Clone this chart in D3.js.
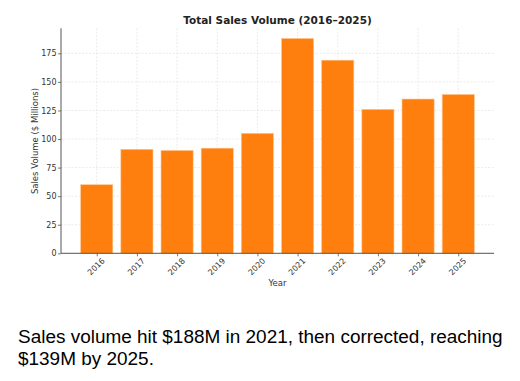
<!DOCTYPE html>
<html><head><meta charset="utf-8">
<script src="https://cdn.jsdelivr.net/npm/d3@7"></script>
<style>body{margin:0;background:#fff}svg{display:block}</style>
</head><body>
<svg id="c" width="520" height="381"></svg>
<script>
const years = ["2016","2017","2018","2019","2020","2021","2022","2023","2024","2025"];
const sales = [60, 91, 90, 92, 105, 188, 169, 126, 135, 139];
const yTicks = [0, 25, 50, 75, 100, 125, 150, 175];
const title = "Total Sales Volume (2016–2025)";
const xLabel = "Year";
const yLabel = "Sales Volume ($ Millions)";
const caption = ["Sales volume hit $188M in 2021, then corrected, reaching", "$139M by 2025."];

const svg = d3.select("#c");
const L = 61, R = 494, T = 28.3, B = 253.3;
const idx = years.map((d,i)=>i);
const x = d3.scaleLinear().domain([-0.89, 9.89]).range([L, R]);
const y = d3.scaleLinear().domain([0, 196.9]).range([B, T]);
const bw = x(0.8) - x(0);

// grid
const g = svg.append("g");
g.selectAll(".gy").data(yTicks).join("line")
  .attr("x1", L).attr("x2", R).attr("y1", d=>y(d)).attr("y2", d=>y(d))
  .attr("stroke", "#e2e2e2").attr("stroke-width", 0.7).attr("stroke-dasharray", "2,1.5");
g.selectAll(".gx").data(idx).join("line")
  .attr("x1", d=>x(d)).attr("x2", d=>x(d)).attr("y1", T).attr("y2", B)
  .attr("stroke", "#e2e2e2").attr("stroke-width", 0.7).attr("stroke-dasharray", "2,1.5");

// bars
svg.append("g").selectAll("rect").data(sales).join("rect")
  .attr("x", (d,i)=>x(i) - bw/2).attr("width", bw)
  .attr("y", d=>y(d)).attr("height", d=>B - y(d))
  .attr("fill", "#ff7f0e").attr("stroke", "#ffc58f").attr("stroke-width", 0.6);

// axes
const yAxis = d3.axisLeft(y).tickValues(yTicks).tickSize(3).tickPadding(1.5);
const ya = svg.append("g").attr("transform", `translate(${L},0)`).call(yAxis);
ya.select(".domain").attr("d", `M0,${T}V${B}`);
const xAxis = d3.axisBottom(x).tickValues(idx).tickFormat(i=>years[i]).tickSize(3).tickPadding(3);
const xa = svg.append("g").attr("transform", `translate(0,${B})`).call(xAxis);
xa.select(".domain").attr("d", `M${L},0H${R}`);
[ya, xa].forEach(a=>{
  a.select(".domain").attr("stroke", "#555").attr("stroke-width", 1);
  a.selectAll(".tick line").attr("stroke", "#555").attr("stroke-width", 0.8);
  a.selectAll(".tick text").attr("fill", "#333").attr("font-family", "DejaVu Sans").attr("font-size", 8);
});
xa.selectAll(".tick text")
  .attr("text-anchor", "end").attr("dy", "0.35em")
  .attr("transform", "translate(6,6) rotate(-45)").attr("x", 0).attr("y", 0);

// labels
svg.append("text").attr("x", (L+R)/2).attr("y", 24).attr("text-anchor", "middle")
  .attr("font-family", "DejaVu Sans").attr("font-weight", "bold").attr("font-size", 10.5).attr("fill", "#222").text(title);
svg.append("text").attr("x", (L+R)/2).attr("y", 286).attr("text-anchor", "middle")
  .attr("font-family", "DejaVu Sans").attr("font-size", 8.5).attr("fill", "#333").text(xLabel);
svg.append("text").attr("transform", `translate(38,141) rotate(-90)`).attr("text-anchor", "middle")
  .attr("font-family", "DejaVu Sans").attr("font-size", 8.5).attr("fill", "#333").text(yLabel);

const cap = svg.append("g").selectAll("text").data(caption).join("text")
  .attr("x", 18).attr("y", (d,i)=>343 + i*22)
  .attr("font-family", "Liberation Sans, Arial").attr("font-size", 20).attr("fill", "#000").text(d=>d);
const w0 = cap.nodes()[0].getComputedTextLength();
cap.attr("font-size", 20 * 485 / w0);
</script>
</body></html>
